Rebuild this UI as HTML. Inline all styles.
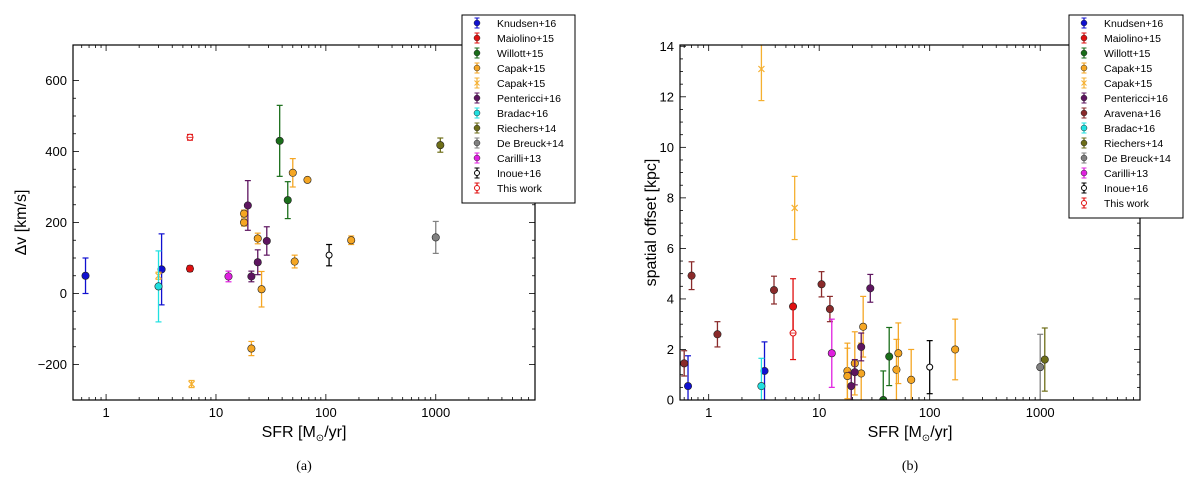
<!DOCTYPE html>
<html><head><meta charset="utf-8"><style>
body{margin:0;background:#fff;width:1200px;height:477px;overflow:hidden}
svg{font-family:"Liberation Sans","DejaVu Sans",sans-serif}
</style></head><body>
<svg id="fig" width="1200" height="477" viewBox="0 0 1200 477" xmlns="http://www.w3.org/2000/svg">
<text x="304" y="470" font-family="Liberation Serif,serif" font-size="14" text-anchor="middle">(a)</text>
<text x="910" y="470" font-family="Liberation Serif,serif" font-size="14" text-anchor="middle">(b)</text>
</svg>
<script>
const NS="http://www.w3.org/2000/svg";
const svg=document.getElementById('fig');
const seriesNames=["Knudsen+16","Maiolino+15","Willott+15","Capak+15","Capak+15 (x)","Pentericci+16","Aravena+16","Bradac+16","Riechers+14","De Breuck+14","Carilli+13","Inoue+16","This work"];
const seriesColors={"Knudsen+16":"#1010d0","Maiolino+15":"#e01010","Willott+15":"#1a6e1a","Capak+15":"#f5a623","Capak+15 (x)":"#f5b030","Pentericci+16":"#5e1560","Aravena+16":"#8a2a2a","Bradac+16":"#20e0e0","Riechers+14":"#6e6e18","De Breuck+14":"#808080","Carilli+13":"#e020e0","Inoue+16":"#000000","This work":"#e01010"};
const dvSeries=["Knudsen+16","Knudsen+16","Maiolino+15","Willott+15","Willott+15","Capak+15","Capak+15","Capak+15","Capak+15","Capak+15","Capak+15","Capak+15","Capak+15","Capak+15","Capak+15 (x)","Capak+15 (x)","Pentericci+16","Pentericci+16","Pentericci+16","Pentericci+16","Bradac+16","Riechers+14","De Breuck+14","Carilli+13","Inoue+16","This work"];
const dvSFR=[0.65,3.2,5.8,38,45,18,18,24,26,21,50,52,68,170,6,3,19.5,24,21,29,3,1100,1000,13,107,5.8];
const dvValues=[50,68,70,430,263,225,200,155,12,-155,340,90,320,150,-255,50,248,88,48,148,20,418,158,48,108,440];
const dvErr=[50,100,8,100,52,10,10,15,50,20,40,18,6,12,10,10,70,35,15,40,100,20,45,15,30,8];
const offSeries=["Knudsen+16","Knudsen+16","Maiolino+15","Willott+15","Willott+15","Capak+15","Capak+15","Capak+15","Capak+15","Capak+15","Capak+15","Capak+15","Capak+15","Capak+15","Capak+15 (x)","Capak+15 (x)","Pentericci+16","Pentericci+16","Pentericci+16","Pentericci+16","Aravena+16","Aravena+16","Aravena+16","Aravena+16","Aravena+16","Aravena+16","Bradac+16","Riechers+14","De Breuck+14","Carilli+13","Inoue+16","This work"];
const offSFR=[0.65,3.2,5.8,38,43,18,18,21,24,25,50,52,68,170,3,6,19.5,21,24,29,0.6,0.7,1.2,3.9,10.5,12.5,3,1100,1000,13,100,5.8];
const offValues=[0.55,1.15,3.7,0,1.72,1.15,0.95,1.45,1.05,2.9,1.2,1.85,0.8,2.0,13.1,7.6,0.55,1.1,2.1,4.42,1.45,4.92,2.6,4.35,4.58,3.6,0.55,1.6,1.3,1.85,1.3,2.65];
const offErr=[1.2,1.15,1.1,1.15,1.15,1.1,1.1,1.25,1.2,1.2,1.2,1.2,1.2,1.2,1.25,1.25,0.55,0.5,0.55,0.55,0.5,0.55,0.5,0.55,0.5,0.5,1.1,1.25,1.3,1.35,1.05,1.05];
const dvTicks=[-200,0,200,400,600];
const offTicks=[0,2,4,6,8,10,12,14];
const xTickLabels=[1,10,100,1000];

function el(tag,attrs,parent){const e=document.createElementNS(NS,tag);for(const k in attrs)e.setAttribute(k,attrs[k]);(parent||svg).appendChild(e);return e;}

function panel(cfg){
  const g=el('g',{});
  
  
  const L=cfg.x0,R=cfg.x1,T=cfg.y0,B=cfg.y1;
  const lx0=Math.log10(cfg.xmin),lx1=Math.log10(cfg.xmax);
  const X=v=>L+(Math.log10(v)-lx0)/(lx1-lx0)*(R-L);
  const Y=v=>B-(v-cfg.ymin)/(cfg.ymax-cfg.ymin)*(B-T);
  const clipId='c'+cfg.name;
  const cp=el('clipPath',{id:clipId},g);el('rect',{x:L,y:T,width:R-L,height:B-T},cp);
  for(let d=-1;d<=4;d++)for(let m=1;m<10;m++){const v=m*Math.pow(10,d);if(v<cfg.xmin||v>cfg.xmax)continue;const x=X(v);const len=m==1?6:3;
    el('line',{x1:x,x2:x,y1:B,y2:B-len,stroke:'#000','stroke-width':0.8},g);el('line',{x1:x,x2:x,y1:T,y2:T+len,stroke:'#000','stroke-width':0.8},g);}
  xTickLabels.forEach(v=>{const t=el('text',{x:X(v),y:B+17,'font-size':13,'text-anchor':'middle'},g);t.textContent=v;});
  cfg.yticks.forEach((v,i)=>{const y=Y(v);el('line',{x1:L,x2:L+6,y1:y,y2:y,stroke:'#000','stroke-width':0.8},g);el('line',{x1:R,x2:R-6,y1:y,y2:y,stroke:'#000','stroke-width':0.8},g);
    const t=el('text',{x:L-6,y:y+4.5,'font-size':13,'text-anchor':'end'},g);t.textContent=v<0?'\u2212'+(-v):v;
    if(i<cfg.yticks.length-1){const st=(cfg.yticks[i+1]-v)/cfg.minor;for(let k=1;k<cfg.minor;k++){const yy=Y(v+k*st);el('line',{x1:L,x2:L+3,y1:yy,y2:yy,stroke:'#000','stroke-width':0.8},g);el('line',{x1:R,x2:R-3,y1:yy,y2:yy,stroke:'#000','stroke-width':0.8},g);}}});
  const xt=el('text',{x:(L+R)/2,y:B+37,'font-size':16,'text-anchor':'middle'},g);xt.innerHTML='SFR [M<tspan font-size="10" dy="4">\u2299</tspan><tspan dy="-4">/yr]</tspan>';
  
  const yt=el('text',{x:0,y:0,'font-size':16,'text-anchor':'middle',transform:`translate(${cfg.ylabX},${(T+B)/2}) rotate(-90)`},g);yt.textContent=cfg.ylabel;
  
  const pg=el('g',{'clip-path':`url(#${clipId})`},g);
  cfg.ser.forEach((s,i)=>{const c=seriesColors[s];const x=X(cfg.xs[i]),y=Y(cfg.ys[i]);const e=cfg.errs[i];
    const pt=el('g',{},pg);
    
    
    const y1=Y(cfg.ys[i]+e),y2=Y(cfg.ys[i]-e);
    el('line',{x1:x,x2:x,y1:y1,y2:y2,stroke:c,'stroke-width':1.3},pt);
    el('line',{x1:x-3,x2:x+3,y1:y1,y2:y1,stroke:c,'stroke-width':1.2},pt);
    el('line',{x1:x-3,x2:x+3,y1:y2,y2:y2,stroke:c,'stroke-width':1.2},pt);
    if(s=="Capak+15 (x)"){el('path',{d:`M${x-3} ${y-3}L${x+3} ${y+3}M${x-3} ${y+3}L${x+3} ${y-3}`,stroke:c,'stroke-width':1.2},pt);}
    else if(s=="Inoue+16"||s=="This work"){el('circle',{cx:x,cy:y,r:3,fill:'#fff',stroke:c,'stroke-width':1},pt);
      if(s=="This work")el('path',{d:`M${x-3} ${y}L${x+3} ${y}`,stroke:c,'stroke-width':0.8},pt);}
    else el('circle',{cx:x,cy:y,r:3.7,fill:c,stroke:'#222','stroke-width':0.6},pt);
  });
  el('rect',{x:L,y:T,width:R-L,height:B-T,fill:'none',stroke:'#000','stroke-width':1.2},g);
  const lg=el('g',{},g);
  const n=cfg.legend.length;
  el('rect',{x:cfg.lgx,y:15,width:cfg.lgw,height:n*15+2+6,fill:'#fff',stroke:'#000','stroke-width':1},lg);
  cfg.legend.forEach((s,i)=>{const y=23+i*15;const c=seriesColors[s];const mx=cfg.lgx+15;
    const en=el('g',{},lg);
    el('line',{x1:mx,x2:mx,y1:y-5,y2:y+5,stroke:c,'stroke-width':1.2},en);
    el('line',{x1:mx-2.5,x2:mx+2.5,y1:y-5,y2:y-5,stroke:c},en);el('line',{x1:mx-2.5,x2:mx+2.5,y1:y+5,y2:y+5,stroke:c},en);
    if(s=="Capak+15 (x)")el('path',{d:`M${mx-2.5} ${y-2.5}L${mx+2.5} ${y+2.5}M${mx-2.5} ${y+2.5}L${mx+2.5} ${y-2.5}`,stroke:c},en);
    else if(s=="Inoue+16"||s=="This work")el('circle',{cx:mx,cy:y,r:2.5,fill:'#fff',stroke:c},en);
    else el('circle',{cx:mx,cy:y,r:3,fill:c,stroke:'#222','stroke-width':0.5},en);
    const t=el('text',{x:cfg.lgx+35,y:y+4,'font-size':10.5},en);t.textContent=s.replace(' (x)','');});
}
panel({name:'panel-a-velocity',x0:73,x1:535,y0:45,y1:400,xmin:0.5,xmax:8000,ymin:-300,ymax:700,yticks:dvTicks,minor:4,ylabel:'\u0394v [km/s]',ylabX:26,
  ser:dvSeries,xs:dvSFR,ys:dvValues,errs:dvErr,lgx:462,lgw:113,
  legend:["Knudsen+16","Maiolino+15","Willott+15","Capak+15","Capak+15 (x)","Pentericci+16","Bradac+16","Riechers+14","De Breuck+14","Carilli+13","Inoue+16","This work"]});
panel({name:'panel-b-offset',x0:680,x1:1140,y0:45,y1:400,xmin:0.55,xmax:8000,ymin:0,ymax:14.05,yticks:offTicks,minor:4,ylabel:'spatial offset [kpc]',ylabX:656,
  ser:offSeries,xs:offSFR,ys:offValues,errs:offErr,lgx:1069,lgw:114,
  legend:["Knudsen+16","Maiolino+15","Willott+15","Capak+15","Capak+15 (x)","Pentericci+16","Aravena+16","Bradac+16","Riechers+14","De Breuck+14","Carilli+13","Inoue+16","This work"]});
</script>
</body></html>
